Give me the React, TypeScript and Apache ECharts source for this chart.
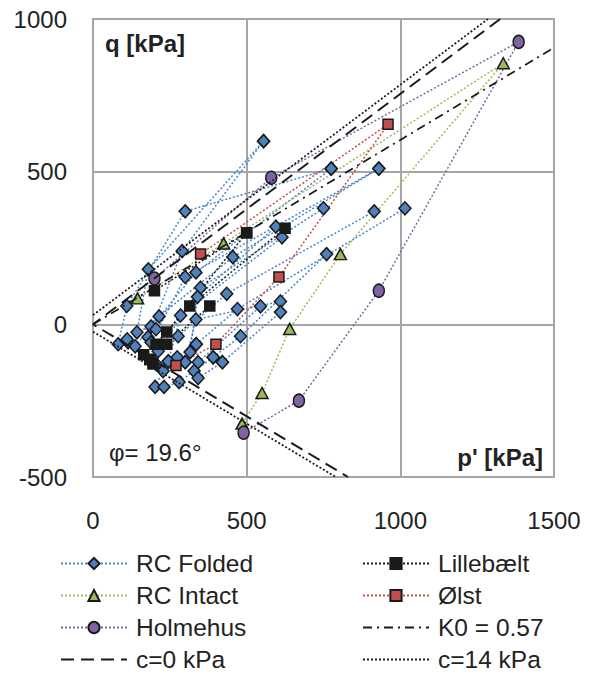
import React, { useEffect, useRef } from "react";
import * as echarts from "echarts";

// ---- data (p' [kPa], q [kPa]) ----
const xTicks = [0, 500, 1000, 1500];
const yTicks = [-500, 0, 500, 1000];

const rcFoldedPaths: number[][][] = [
  [[143, -26], [180, 180], [555, 600]],
  [[82, -65], [110, 60], [300, 370], [775, 510]],
  [[179, -42], [290, 240], [555, 600]],
  [[114, -59], [215, 26], [455, 220], [930, 510]],
  [[137, -72], [335, 170], [775, 510]],
  [[189, -59], [300, 155], [930, 510]],
  [[212, -88], [350, 120], [750, 380]],
  [[277, -39], [435, 100], [915, 370]],
  [[245, -121], [285, 29], [615, 285]],
  [[316, -91], [340, 90], [595, 320]],
  [[336, -65], [470, 50], [1015, 380]],
  [[300, -124], [335, 16], [610, 75]],
  [[391, -108], [480, -39], [760, 230]],
  [[342, -124], [545, 59]],
  [[421, -124], [610, 40]],
  [[202, -205], [228, -153], [300, -124]],
  [[231, -205], [280, -189], [329, -153], [391, -108]],
  [[342, -176], [421, -124]],
  [[205, -130], [245, -121]],
  [[274, -108], [336, -65]],
  [[111, -49], [189, -7], [205, -16]],
];

const rcIntact: number[][] = [
  [145, 85], [425, 265], [1335, 855], [805, 230], [640, -15], [550, -225], [485, -325],
];

const holmehus: number[][] = [
  [200, 150], [580, 480], [1385, 925], [930, 110], [670, -250], [490, -355],
];

const lillebaeltPaths: number[][][] = [
  [[165, -100], [240, -25], [500, 300]],
  [[185, -115], [205, -65], [315, 60], [625, 315]],
  [[240, -65], [380, 60]],
  [[195, -130], [185, -115]],
  [[200, 110], [500, 300]],
];

const olst: number[][] = [
  [350, 230], [960, 655], [605, 155], [400, -65], [270, -135],
];

const c0Line: number[][] = [[1325, 1000], [0, 0], [830, -500]];
const c14Upper: number[][] = [[0, 30], [1285, 1000]];
const c14Lower: number[][] = [[0, -24], [790, -500]];
const k0Line: number[][] = [[0, 0], [1490, 900]];

const legendLeftColumn = ["RC Folded", "RC Intact", "Holmehus", "c=0 kPa"];
const legendRightColumn = ["Lillebælt", "Ølst", "K0 = 0.57", "c=14 kPa"];
const lineOnlyNames = ["c=0 kPa", "K0 = 0.57", "c=14 kPa"];

// ---- helpers ----
const GAP: any = ["-", "-"];
const joinPaths = (paths: number[][][]) => {
  const out: any[] = [];
  paths.forEach((p, i) => {
    if (i > 0) out.push(GAP);
    p.forEach((pt) => out.push(pt));
  });
  return out;
};

const FONT = "'Liberation Sans', Arial, sans-serif";
const GRID = "#a6a6a6";
const TXT = "#222222";
const EDGE = "#1a1a1a";

const markerSeries = (
  name: string,
  data: any[],
  symbol: string,
  size: any,
  fill: string,
  lineColor: string
) => ({
  type: "line",
  name,
  data,
  symbol,
  symbolSize: size,
  showSymbol: true,
  showAllSymbol: true,
  connectNulls: false,
  clip: true,
  itemStyle: { color: fill, borderColor: EDGE, borderWidth: 1.5 },
  lineStyle: { color: lineColor, width: 1.5, type: [2, 2] },
  emphasis: { disabled: true },
  z: 3,
});

const refSeries = (name: string, data: any[], type: any, width: number) => ({
  type: "line",
  name,
  data,
  symbol: "none",
  connectNulls: false,
  clip: true,
  itemStyle: { color: EDGE },
  lineStyle: { color: EDGE, width, type },
  emphasis: { disabled: true },
  z: 4,
});

const hiddenSym = { opacity: 0, color: "transparent", borderWidth: 0 };

export default function App() {
  const ref = useRef<HTMLDivElement>(null);

  useEffect(() => {
    if (!ref.current) return;
    const chart = echarts.init(ref.current, undefined, { renderer: "svg" });

    const legendText = {
      fontSize: 24.5,
      color: TXT,
      fontFamily: FONT,
      lineHeight: 20,
      padding: [0, 0, 0, 4],
    };
    const rowTops = [551, 583, 615, 647];
    const makeLegend = (name: string, left: number, top: number) => ({
      orient: "horizontal",
      left,
      top,
      padding: 0,
      itemWidth: 66,
      itemHeight: 14,
      selectedMode: false,
      textStyle: legendText,
      data: [
        lineOnlyNames.includes(name) ? { name, itemStyle: hiddenSym } : name,
      ],
    });
    const legends = [
      ...legendLeftColumn.map((n, i) => makeLegend(n, 60, rowTops[i])),
      ...legendRightColumn.map((n, i) => makeLegend(n, 362, rowTops[i])),
    ];

    const option: any = {
      animation: false,
      backgroundColor: "#ffffff",
      textStyle: { fontFamily: FONT },
      grid: {
        left: 93,
        top: 19,
        width: 461,
        height: 458,
        show: true,
        borderColor: GRID,
        borderWidth: 2,
      },
      xAxis: {
        type: "value",
        min: xTicks[0],
        max: xTicks[xTicks.length - 1],
        interval: xTicks[1] - xTicks[0],
        axisLine: { show: false, onZero: false },
        axisTick: { show: false },
        splitLine: { show: true, lineStyle: { color: GRID, width: 2 } },
        axisLabel: {
          fontSize: 24,
          color: TXT,
          margin: 31,
          fontFamily: FONT,
          formatter: (v: number) => String(v),
        },
      },
      yAxis: {
        type: "value",
        min: yTicks[0],
        max: yTicks[yTicks.length - 1],
        interval: yTicks[1] - yTicks[0],
        axisLine: { show: false, onZero: false },
        axisTick: { show: false },
        splitLine: { show: true, lineStyle: { color: GRID, width: 2 } },
        axisLabel: {
          fontSize: 24,
          color: TXT,
          margin: 26,
          fontFamily: FONT,
          formatter: (v: number) => String(v),
        },
      },
      legend: legends,
      graphic: [
        {
          type: "text",
          left: 105,
          top: 31,
          style: { text: "q [kPa]", font: `bold 24px ${FONT}`, fill: TXT },
        },
        {
          type: "text",
          right: 49,
          top: 445,
          style: { text: "p' [kPa]", font: `bold 24px ${FONT}`, fill: TXT },
        },
        {
          type: "text",
          left: 109,
          top: 440,
          style: { text: "φ= 19.6°", font: `24px ${FONT}`, fill: TXT },
        },
      ],
      series: [
        markerSeries("RC Folded", joinPaths(rcFoldedPaths), "diamond", [12, 13], "#4f81bd", "#4a86c8"),
        markerSeries("Lillebælt", joinPaths(lillebaeltPaths), "rect", 10, "#1a1a1a", "#1a1a1a"),
        markerSeries("RC Intact", rcIntact, "triangle", [12, 11], "#9bbb59", "#9bbb59"),
        markerSeries("Ølst", olst, "rect", 10, "#c0504d", "#c0504d"),
        markerSeries("Holmehus", holmehus, "circle", [11, 13], "#8064a2", "#8064a2"),
        refSeries("K0 = 0.57", k0Line, [9, 5, 2, 5], 1.75),
        refSeries("c=0 kPa", c0Line, [13, 7], 2),
        refSeries("c=14 kPa", [...c14Upper, GAP, ...c14Lower], [2, 2], 1.75),
      ],
    };

    chart.setOption(option);
    return () => chart.dispose();
  }, []);

  return (
    <div
      ref={ref}
      style={{ position: "absolute", left: 0, top: 0, width: 592, height: 675, background: "#fff" }}
    />
  );
}
